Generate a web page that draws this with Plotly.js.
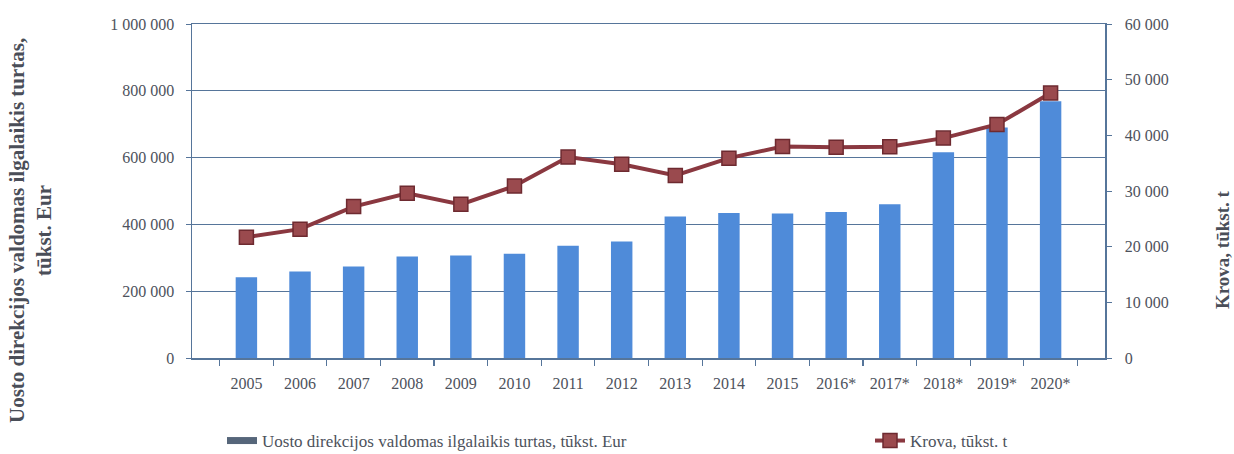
<!DOCTYPE html>
<html>
<head>
<meta charset="utf-8">
<script src="https://cdn.plot.ly/plotly-3.0.1.min.js"></script>
<style>html,body{margin:0;padding:0;background:#fff;}#chart{width:1234px;height:454px;}</style>
</head>
<body>
<div id="chart"></div>
<script>
const years = ["2005","2006","2007","2008","2009","2010","2011","2012","2013","2014","2015","2016*","2017*","2018*","2019*","2020*"];
const turtas = [242000,259000,274000,304000,307000,312000,336000,349000,424000,434000,433000,437000,460000,616000,690000,769000];
const krova = [21700,23150,27200,29600,27600,30900,36100,34800,32800,35900,38000,37850,37950,39500,41950,47600];
const barName = "Uosto direkcijos valdomas ilgalaikis turtas, tūkst. Eur";
const lineName = "Krova, tūkst. t";
const leftTitle = ["Uosto direkcijos valdomas ilgalaikis turtas,", "tūkst. Eur"];
const rightTitle = "Krova, tūkst. t";
const leftTicks = [0,200000,400000,600000,800000,1000000];
const rightTicks = [0,10000,20000,30000,40000,50000,60000];

const W = 1234, H = 454;
const M = {l:192, r:129, t:24, b:96, autoexpand:false};
const pw = W - M.l - M.r, ph = H - M.t - M.b;
const px = x => (x - M.l) / pw;
const py = y => (H - M.b - y) / ph;

const serif = "Liberation Serif, Times New Roman, serif";
const txt = "#4d525c";
const grid = "#56759a";

const traces = [
  {type:"bar", x:years, y:turtas, name:barName, marker:{color:"#4f8bd9"}, showlegend:false, hoverinfo:"x+y"},
  {type:"scatter", mode:"lines", x:[null], y:[null], name:barName, legend:"legend",
   line:{color:"#56667a", width:7}, hoverinfo:"skip"},
  {type:"scatter", mode:"lines+markers", x:years, y:krova, yaxis:"y2", name:lineName, legend:"legend2",
   line:{color:"#8a3840", width:4}, marker:{symbol:"square", size:14, color:"#9a4a4e", line:{color:"#6e2a30", width:1.5}}}
];

const legendBase = {orientation:"h", yanchor:"middle", xanchor:"left", font:{family:serif, size:17, color:txt}, bgcolor:"rgba(0,0,0,0)"};

const layout = {
  width:W, height:H, margin:M,
  paper_bgcolor:"#fff", plot_bgcolor:"#fff",
  separators:", ",
  bargap:0.6,
  font:{family:serif, size:16, color:txt},
  xaxis:{type:"category", showline:true, linecolor:grid, linewidth:1.5, mirror:true,
         ticks:"outside", tickson:"boundaries", ticklen:6, tickcolor:grid, tickwidth:1.2,
         showgrid:false, tickfont:{family:serif, size:16, color:txt}, ticklabelstandoff:10},
  yaxis:{range:[0,1000000], tickvals:leftTicks, tickformat:",d", showline:true, linecolor:grid, linewidth:1.5,
         ticks:"outside", ticklen:5, tickcolor:grid, showgrid:true, gridcolor:grid, gridwidth:1,
         zeroline:false, tickfont:{family:serif, size:16, color:txt}, ticklabelstandoff:8},
  yaxis2:{range:[0,60000], tickvals:rightTicks, tickformat:",d", overlaying:"y", side:"right", showline:true,
          linecolor:grid, linewidth:1.5, ticks:"outside", ticklen:5, tickcolor:grid, showgrid:false, zeroline:false,
          tickfont:{family:serif, size:16, color:txt}, ticklabelstandoff:10},
  legend:Object.assign({}, legendBase, {x:px(222), y:py(441)}),
  legend2:Object.assign({}, legendBase, {x:px(870), y:py(441)}),
  annotations:[
    {text:"<b>"+leftTitle[0]+"</b><br><b>"+leftTitle[1]+"</b>", xref:"paper", yref:"paper", x:px(30), y:py(231),
     xanchor:"center", yanchor:"middle", textangle:-90, showarrow:false,
     font:{family:serif, size:21, color:"#4a4e58"}},
    {text:"<b>"+rightTitle+"</b>", xref:"paper", yref:"paper", x:px(1222), y:py(250),
     xanchor:"center", yanchor:"middle", textangle:-90, showarrow:false,
     font:{family:serif, size:19, color:"#4a4e58"}}
  ]
};

Plotly.newPlot("chart", traces, layout, {displayModeBar:false, staticPlot:true});
</script>
</body>
</html>
